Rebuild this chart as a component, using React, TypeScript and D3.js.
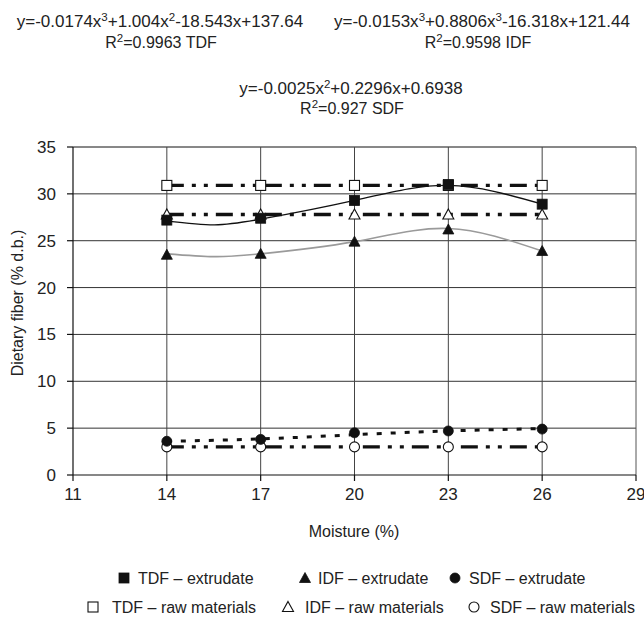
import React from "react";
import * as d3 from "d3";

// ---- data ----
const moisture = [14, 17, 20, 23, 26];
const tdfExtrudate = [27.2, 27.4, 29.3, 31.0, 28.9];
const idfExtrudate = [23.5, 23.6, 24.9, 26.2, 23.9];
const sdfExtrudate = [3.6, 3.8, 4.5, 4.7, 4.9];
const tdfRaw = [30.9, 30.9, 30.9, 30.9, 30.9];
const idfRaw = [27.8, 27.8, 27.8, 27.8, 27.8];
const sdfRaw = [3.0, 3.0, 3.0, 3.0, 3.0];

// trend lines
const tdfTrendX = [14, 15.5, 17, 20, 23, 26];
const tdfTrendY = [27.1, 26.7, 27.3, 29.3, 30.9, 28.9];
const idfTrendX = [14, 15.5, 17, 20, 23, 26];
const idfTrendY = [23.6, 23.3, 23.6, 24.9, 26.3, 23.9];
const sdfTrendX = [14, 17, 20, 23, 26];
const sdfTrendY = [3.6, 3.85, 4.3, 4.7, 4.95];

const xTicks = [11, 14, 17, 20, 23, 26, 29];
const yTicks = [0, 5, 10, 15, 20, 25, 30, 35];

const FONT = "'Liberation Sans', Arial, Helvetica, sans-serif";

type Marker = "square" | "triangle" | "circle";

function MarkerShape({ kind, cx, cy, filled }: { kind: Marker; cx: number; cy: number; filled: boolean }) {
  const fill = filled ? "#111" : "#fff";
  const stroke = "#111";
  const sw = filled ? 0.8 : 1.1;
  if (kind === "square") {
    return <rect x={cx - 5} y={cy - 5} width={10} height={10} fill={fill} stroke={stroke} strokeWidth={sw} />;
  }
  if (kind === "triangle") {
    const p = `${cx},${cy - 5.5} ${cx + 5.5},${cy + 4.5} ${cx - 5.5},${cy + 4.5}`;
    return <polygon points={p} fill={fill} stroke={stroke} strokeWidth={sw} />;
  }
  return <circle cx={cx} cy={cy} r={5} fill={fill} stroke={stroke} strokeWidth={sw} />;
}

export default function App() {
  const W = 644, H = 621;
  const x = d3.scaleLinear().domain([11, 29]).range([73, 636]);
  const y = d3.scaleLinear().domain([0, 35]).range([475, 147]);

  const straight = d3.line<[number, number]>().x(d => x(d[0])).y(d => y(d[1]));
  const smooth = d3.line<[number, number]>().x(d => x(d[0])).y(d => y(d[1])).curve(d3.curveNatural);

  const zip = (xs: number[], ys: number[]) => xs.map((v, i) => [v, ys[i]] as [number, number]);

  const rawDash = "17,8,4,8,4,8";

  const sup = (t: string) => (
    <tspan fontSize={11.5} dy={-6.5}>{t}</tspan>
  );
  const down = (t: string) => <tspan dy={6.5}>{t}</tspan>;

  const legend1: { kind: Marker; cx: number; tx: number; label: string }[] = [
    { kind: "square", cx: 124, tx: 138, label: "TDF – extrudate" },
    { kind: "triangle", cx: 305, tx: 318, label: "IDF – extrudate" },
    { kind: "circle", cx: 455, tx: 469, label: "SDF – extrudate" },
  ];
  const legend2: { kind: Marker; cx: number; tx: number; label: string }[] = [
    { kind: "square", cx: 93, tx: 112, label: "TDF – raw materials" },
    { kind: "triangle", cx: 288, tx: 305, label: "IDF – raw materials" },
    { kind: "circle", cx: 474, tx: 490, label: "SDF – raw materials" },
  ];

  return (
    <svg width={W} height={H} style={{ position: "absolute", left: 0, top: 0, background: "#fff" }} fontFamily={FONT}>
      <rect width={W} height={H} fill="#fff" />

      {/* equations */}
      <g fill="#222">
        <text x={160} y={27} fontSize={17} textAnchor="middle">
          y=-0.0174x{sup("3")}{down("+1.004x")}{sup("2")}{down("-18.543x+137.64")}
        </text>
        <text x={161} y={48} fontSize={16} textAnchor="middle">
          R{sup("2")}{down("=0.9963 TDF")}
        </text>
        <text x={482} y={27} fontSize={17} textAnchor="middle">
          y=-0.0153x{sup("3")}{down("+0.8806x")}{sup("3")}{down("-16.318x+121.44")}
        </text>
        <text x={478} y={48} fontSize={16} textAnchor="middle">
          R{sup("2")}{down("=0.9598 IDF")}
        </text>
        <text x={351} y={94} fontSize={17} textAnchor="middle">
          y=-0.0025x{sup("2")}{down("+0.2296x+0.6938")}
        </text>
        <text x={352} y={114} fontSize={16} textAnchor="middle">
          R{sup("2")}{down("=0.927 SDF")}
        </text>
      </g>

      {/* grid */}
      <g>
        {yTicks.filter(t => t > 0).map(t => (
          <line key={"h" + t} x1={x(11)} x2={x(29)} y1={y(t)} y2={y(t)} stroke={t === 35 ? "#111" : "#333"} strokeWidth={1} />
        ))}
        {xTicks.filter(t => t > 11).map(t => (
          <line key={"v" + t} x1={x(t)} x2={x(t)} y1={y(0)} y2={y(35)} stroke={t === 29 ? "#555" : "#444"} strokeWidth={1} />
        ))}
      </g>

      {/* axes */}
      <g stroke="#111" strokeWidth={1.2}>
        <line x1={x(11)} x2={x(11)} y1={y(0)} y2={y(35)} />
        <line x1={x(11)} x2={x(29)} y1={y(0)} y2={y(0)} />
        {yTicks.map(t => (
          <line key={"yt" + t} x1={x(11) - 6} x2={x(11)} y1={y(t)} y2={y(t)} />
        ))}
        {xTicks.map(t => (
          <line key={"xt" + t} x1={x(t)} x2={x(t)} y1={y(0)} y2={y(0) + 6} />
        ))}
      </g>
      <g fontSize={17} fill="#222">
        {yTicks.map(t => (
          <text key={"yl" + t} x={x(11) - 17} y={y(t) + 6} textAnchor="end">{t}</text>
        ))}
        {xTicks.map(t => (
          <text key={"xl" + t} x={x(t)} y={y(0) + 25} textAnchor="middle">{t}</text>
        ))}
      </g>
      <g fontSize={16} fill="#222">
        <text x={354} y={537} textAnchor="middle">Moisture (%)</text>
        <text transform={`translate(23,303) rotate(-90)`} textAnchor="middle">Dietary fiber (% d.b.)</text>
      </g>

      {/* raw-material lines */}
      <g fill="none" stroke="#111" strokeWidth={3.4} strokeDasharray={rawDash}>
        <path d={straight(zip(moisture, tdfRaw)) || ""} />
        <path d={straight(zip(moisture, idfRaw)) || ""} />
        <path d={straight(zip(moisture, sdfRaw)) || ""} />
      </g>

      {/* trend lines */}
      <path d={smooth(zip(tdfTrendX, tdfTrendY)) || ""} fill="none" stroke="#111" strokeWidth={1.3} />
      <path d={smooth(zip(idfTrendX, idfTrendY)) || ""} fill="none" stroke="#9a9a9a" strokeWidth={1.6} />
      <path d={smooth(zip(sdfTrendX, sdfTrendY)) || ""} fill="none" stroke="#111" strokeWidth={3} strokeDasharray="5,9" />

      {/* raw markers */}
      {moisture.map((m, i) => (
        <g key={"raw" + m}>
          <MarkerShape kind="square" cx={x(m)} cy={y(tdfRaw[i])} filled={false} />
          <MarkerShape kind="triangle" cx={x(m)} cy={y(idfRaw[i])} filled={false} />
          <MarkerShape kind="circle" cx={x(m)} cy={y(sdfRaw[i])} filled={false} />
        </g>
      ))}
      {/* extrudate markers */}
      {moisture.map((m, i) => (
        <g key={"ext" + m}>
          <MarkerShape kind="square" cx={x(m)} cy={y(tdfExtrudate[i])} filled={true} />
          <MarkerShape kind="triangle" cx={x(m)} cy={y(idfExtrudate[i])} filled={true} />
          <MarkerShape kind="circle" cx={x(m)} cy={y(sdfExtrudate[i])} filled={true} />
        </g>
      ))}

      {/* legend */}
      <g fontSize={16} fill="#222">
        {legend1.map(l => (
          <g key={l.label}>
            <MarkerShape kind={l.kind} cx={l.cx} cy={578} filled={true} />
            <text x={l.tx} y={584}>{l.label}</text>
          </g>
        ))}
        {legend2.map(l => (
          <g key={l.label}>
            <MarkerShape kind={l.kind} cx={l.cx} cy={607} filled={false} />
            <text x={l.tx} y={613}>{l.label}</text>
          </g>
        ))}
      </g>
    </svg>
  );
}
